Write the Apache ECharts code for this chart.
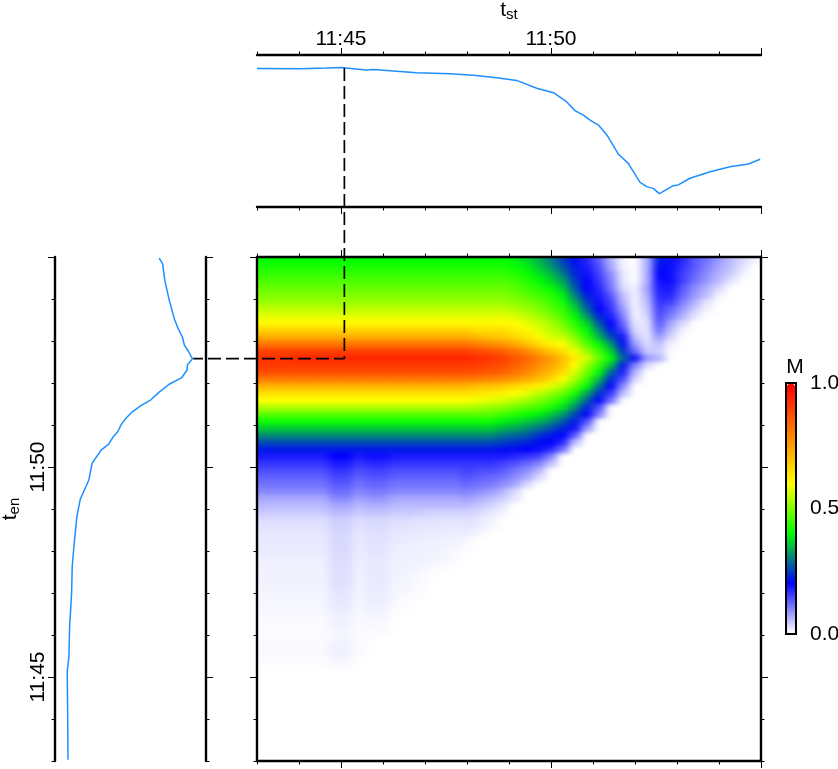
<!DOCTYPE html>
<html><head><meta charset="utf-8">
<style>html,body{margin:0;padding:0;background:#fff}#c{width:838px;height:769px}</style>
<script src="https://cdn.jsdelivr.net/npm/echarts@6/dist/echarts.min.js"></script>
</head><body>
<svg width="0" height="0" style="position:absolute"><filter id="soft" x="0" y="0" width="100%" height="100%" color-interpolation-filters="sRGB"><feGaussianBlur stdDeviation="4 2.2"/></filter></svg>
<div id="c"></div>
<script>
// minutes of the day: 703 = 11:43, 715 = 11:55
const tMin = 703, tMax = 715;
const tickMinutes = [705, 710];
const tickLabels = ['11:45', '11:50'];
const majorMinutes = [705, 710, 715];

const topT = [703.00,704.02,704.66,705.02,705.29,705.61,705.77,706.25,706.80,707.60,708.15,708.71,709.18,709.66,710.06,710.37,710.57,710.77,710.93,711.13,711.33,711.60,711.84,712.12,712.28,712.44,712.58,712.91,713.03,713.31,713.79,714.26,714.70,714.98];
const topV = [0.912,0.910,0.914,0.917,0.910,0.901,0.904,0.895,0.884,0.877,0.866,0.851,0.833,0.781,0.752,0.693,0.634,0.605,0.572,0.539,0.474,0.349,0.287,0.162,0.134,0.121,0.088,0.140,0.145,0.189,0.232,0.265,0.283,0.314];

const leftT = [714.97,714.85,714.45,713.98,713.54,713.30,713.09,712.90,712.75,712.58,712.43,712.31,712.13,711.97,711.77,711.60,711.46,711.32,711.16,711.02,710.84,710.70,710.54,710.40,710.09,709.69,709.23,708.82,708.18,707.63,707.00,706.20,705.48,705.13,704.06,703.03];
const leftV = [0.690,0.712,0.727,0.756,0.789,0.815,0.844,0.857,0.884,0.910,0.877,0.875,0.840,0.756,0.686,0.635,0.569,0.514,0.470,0.440,0.415,0.382,0.354,0.305,0.246,0.224,0.167,0.145,0.127,0.114,0.110,0.097,0.092,0.081,0.084,0.086];

// dashed guide: from the top-panel curve, to the selected point, to the left-panel peak
const guideT = [705.08, 705.08, 701.48];
const guideE = [719.50, 712.58, 712.58];

// M x 100, one row per t_en step from the top of the picture; rows stop at the diagonal
const heatRows = [
[40,40,40,40,40,40,40,40,40,40,40,40,40,40,40,40,40,40,40,40,40,39,37,34,30,25,21,17,13,6,1,0,6,22,19,17,13,11,8,5,3,1],
[42,42,42,42,42,42,42,42,42,42,42,42,42,42,42,42,42,42,42,42,42,41,39,36,32,27,22,18,14,7,1,0,6,21,19,16,13,10,7,5,2],
[44,44,44,44,44,44,44,44,44,44,44,44,44,44,44,44,44,44,44,44,44,43,41,38,35,30,23,19,15,9,2,0,6,20,19,15,12,9,6,4,1],
[46,46,46,46,46,46,46,46,46,46,46,46,46,46,46,46,46,46,46,46,46,45,43,40,37,33,25,20,16,10,2,0,6,19,19,15,11,8,5,2],
[48,48,48,48,48,48,48,48,48,48,48,48,48,48,48,48,48,48,48,48,48,47,45,43,40,36,27,20,17,11,3,1,7,18,18,13,9,6,3],
[50,50,50,50,50,50,50,50,50,50,50,50,50,50,50,50,50,50,50,50,50,49,47,45,43,39,30,22,18,13,5,1,6,17,17,12,8,5,1],
[52,52,52,52,52,52,52,52,52,52,52,52,52,52,52,52,52,52,52,52,52,51,50,48,45,41,34,25,19,15,6,1,5,16,15,10,6,2],
[55,55,55,55,55,55,55,55,55,55,55,55,55,55,55,55,55,55,55,55,55,54,52,50,47,44,37,28,20,16,8,1,4,15,12,8,4,1],
[58,58,58,58,58,58,58,58,58,58,58,58,58,58,58,58,58,58,58,58,58,57,55,53,50,46,40,32,23,18,10,1,3,14,10,6,2],
[61,61,61,61,61,61,61,61,61,61,61,61,61,61,61,61,61,61,61,61,61,60,58,56,53,49,43,37,27,20,12,2,2,13,7,3],
[67,67,67,67,67,67,67,67,67,67,67,67,67,67,67,67,67,67,65,65,65,63,61,58,55,52,46,40,31,22,15,3,2,11,5,1],
[73,73,73,73,73,73,73,73,73,73,73,73,73,73,73,73,73,73,71,70,69,67,64,61,57,56,50,43,35,26,19,5,2,8,3],
[82,82,82,82,82,82,82,82,82,82,82,82,82,82,82,82,82,82,80,78,77,74,70,66,62,60,54,47,40,32,21,8,3,5,1],
[90,90,90,90,90,90,90,90,90,90,90,90,90,90,90,90,90,90,88,87,85,82,79,74,69,65,59,52,45,37,24,12,4,4],
[92,92,92,94,94,94,94,94,94,94,94,94,94,94,94,94,94,94,93,92,90,87,84,80,76,70,63,57,48,40,28,19,8,6],
[91,91,91,91,91,91,91,91,91,91,91,91,91,91,91,91,91,91,90,89,88,85,82,78,74,69,60,52,44,35,22,10,3],
[88,88,88,88,88,88,88,88,88,88,88,88,88,88,88,88,88,88,87,86,85,82,79,75,71,65,57,49,40,28,18,6],
[81,81,81,81,81,81,81,81,81,81,81,81,81,81,81,81,81,81,80,79,78,76,73,70,66,60,53,45,35,23,14,3],
[72,72,72,72,72,72,72,72,72,72,72,72,72,72,72,72,72,71,70,69,68,66,64,62,58,54,48,40,29,20,9],
[65,65,65,65,65,65,65,65,65,65,65,65,65,65,65,65,65,65,64,63,62,60,58,55,52,48,42,33,24,16,5],
[60,60,60,60,60,60,60,60,60,60,60,60,60,60,60,60,60,60,59,58,57,55,53,50,47,43,36,28,20,11],
[54,54,54,54,54,54,54,54,54,54,54,54,54,54,54,54,54,54,53,52,51,49,47,45,42,38,31,23,14],
[47,47,47,47,47,47,47,47,47,47,47,47,47,47,47,47,47,47,47,47,45,43,41,39,36,32,26,20,10],
[41,41,41,41,41,41,41,41,41,41,41,41,41,41,41,41,41,41,41,41,39,38,36,34,31,27,22,14],
[36,36,36,36,36,36,36,36,36,36,36,36,36,36,36,36,36,36,36,36,34,33,31,29,26,23,19,8],
[31,31,31,31,31,31,31,31,31,31,31,31,31,31,31,31,31,31,31,31,29,28,27,24,22,20,13],
[26,26,26,26,26,26,26,26,26,26,26,26,26,26,26,26,26,26,26,26,25,24,23,21,20,17,5],
[22,22,22,22,22,22,22,22,22,22,22,22,22,22,22,22,22,22,22,22,21,21,20,19,17,11],
[18,18,18,18,18,18,20,20,18,19,19,18,18,18,18,18,18,18,18,18,18,17,16,15,10],
[16,16,16,16,16,16,18,18,16,17,17,16,16,16,16,16,16,16,16,16,15,14,12,10,5],
[14,14,14,14,14,14,16,16,14,15,15,14,14,14,14,14,14,15,14,14,13,11,9,6],
[12.5,12.5,12.5,12.5,12.5,12.5,14.5,14.5,12.5,13.5,13.5,12.5,12.5,12.5,12.5,12.5,12.5,13.5,12.5,12,11,9,7,3],
[11,11,11,11,11,11,13,13,11,12,12,11,11,11,11,11,11,12,11,10.5,9,7,3],
[9.5,9.5,9.5,9.5,9.5,9.5,11.5,11.5,9.5,10.5,10.5,9.5,9.5,9.5,9.5,9.5,9.5,10,9,8,6,3],
[7,7,7,7,7,7,9.5,9.5,7.5,8.5,8.5,7,7,7,7,7,7,7.5,6.5,5.5,4,2],
[5.5,5.5,5.5,5.5,5.5,5.5,7,7,5.5,6.5,6.5,5.5,5.5,5.5,5.5,5.5,5.5,5.5,4.5,3.5,2],
[4.2,4.2,4.2,4.2,4.2,4.2,5.5,5.5,4.2,4.8,4.8,4.2,4.2,4,3.5,3.5,3.5,3.5,3,2,1],
[2.8,2.8,2.8,2.8,2.8,2.8,4,4,2.8,3.2,3.2,2.8,2.8,2.5,2.5,2.3,2.3,2.5,2,1],
[2.3,2.3,2.3,2.3,2.3,2.3,3.5,3.5,2.3,2.8,2.8,2.3,2.2,2,2,1.8,1.8,2,1.5,0.8],
[2,2,2,2,2,2,3.2,3.2,2,2.5,2.5,2,1.8,1.7,1.6,1.5,1.4,1.5,0.8],
[1.8,1.8,1.8,1.8,1.8,1.8,3,3,1.8,2.3,2.3,1.7,1.5,1.4,1.3,1.1,1,0.6],
[1.6,1.6,1.6,1.6,1.6,1.6,3,3,1.6,2.2,2.2,1.5,1.3,1.2,1.1,1,0.8,0.4],
[1.5,1.5,1.5,1.5,1.5,1.5,2.8,2.8,1.5,2,2,1.3,1.2,1.1,1,0.8,0.4],
[1.2,1.2,1.2,1.2,1.2,1.2,2.7,2.7,1.3,1.8,1.8,1.2,1.1,1,0.9,0.7,0.3],
[1.1,1.1,1.1,1.1,1.1,1.1,2.6,2.6,1.2,1.8,1.8,1.1,1,0.8,0.5,0.2],
[1,1,1,1,1,1,2.5,2.5,1.1,1.8,1.8,1,0.9,0.6,0.2],
[1,1,1,1,1,1,2.4,2.4,1,1.7,1.7,0.9,0.8,0.5,0.1],
[0.9,0.9,0.9,0.9,0.9,0.9,2.2,2.2,0.9,1.6,1.6,0.8,0.7,0.3],
[0.8,0.8,0.8,0.8,0.8,0.8,2,2,0.8,1.5,1.5,0.7,0.5,0.2],
[0.7,0.7,0.7,0.7,0.7,0.7,1.8,1.8,0.7,1.4,1.4,0.5,0.2],
[0.6,0.6,0.6,0.6,0.6,0.6,1.5,1.5,0.6,1.1,1.1,0.3,0.1],
[0.5,0.5,0.5,0.5,0.5,0.5,1.2,1.2,0.5,0.8,0.8,0.1],
[0.4,0.4,0.4,0.4,0.4,0.4,1,1,0.4,0.6,0.4],
[0.4,0.4,0.4,0.4,0.4,0.4,0.8,0.8,0.3,0.4,0.3],
[0.4,0.4,0.4,0.4,0.4,0.4,0.8,0.8,0.3,0.2],
[0.5,0.5,0.5,0.5,0.5,0.5,1.1,1.1,0.3,0.1],
[0.5,0.5,0.5,0.5,0.5,0.5,1.1,1.1,0.4],
[0.3,0.3,0.3,0.3,0.3,0.3,0.9,0.8],
[0.1,0.1,0.1,0.1,0.1,0.1,0.4,0.3]
];
const heatCols = 42, heatRowCount = 72;
const colorStops = ['#ffffff','#0000ff','#00ff00','#ffff00','#ff8000','#ff0000'];

const FONT = '"Liberation Sans", Arial, Helvetica, sans-serif';
const LS = 21;
const lineStyle = {color:'#000', width:2.4};
const richName = {a:{fontFamily:FONT,fontSize:21,color:'#000'}, b:{fontFamily:FONT,fontSize:15,color:'#000',padding:[8,0,0,0]}};

function timeAxis(grid, position, major, extra){
  return Object.assign({
    type:'value', gridIndex:grid, position:position, min:tMin, max:tMax, interval:1,
    splitLine:{show:false}, minorTick:{show:false},
    axisLine:{show:!major, onZero:false, lineStyle:lineStyle},
    axisTick:major ? {show:true, customValues:majorMinutes, length:7, lineStyle:{color:'#000',width:1}}
                   : {show:true, length:3.5, lineStyle:{color:'#000',width:1}},
    axisLabel:{show:false}
  }, extra||{});
}
function hidden(grid, min, max){
  return {type:'value', gridIndex:grid, min:min, max:max, show:false, splitLine:{show:false}};
}
const labelFmt = v => tickLabels[tickMinutes.indexOf(v)] || '';
const rect = (l,t,w,h,x) => Object.assign({left:l, top:t, width:w, height:h, outerBoundsMode:'none', containLabel:false}, x||{});

const grids = [
  rect(257,55,504,152),   // 0 top panel
  rect(257,55,504,152),   // 1 top panel, long ticks
  rect(55,257,151,504),   // 2 left panel
  rect(55,257,151,504),   // 3 left panel, long ticks
  rect(245,250,516,511),  // 4 heat cells (one spare column and row behind the frame, for the soft edge)
  rect(257,257,504,504),  // 5 heat frame
  rect(257,257,504,504),  // 6 heat frame, long ticks
  rect(786,383,10,251,{show:true, borderColor:'#000', borderWidth:2, backgroundColor:'transparent'}), // 7 colour bar
  rect(55,55,706,706)     // 8 guide overlay
];

const xAxis = [
  timeAxis(0,'top',false,{
    axisLabel:{show:true, customValues:tickMinutes, formatter:labelFmt, fontFamily:FONT, fontSize:LS, color:'#000', margin:5},
    name:'{a|t}{b|st}', nameLocation:'middle', nameGap:33, nameTextStyle:{rich:richName}
  }),
  timeAxis(0,'bottom',false),
  timeAxis(1,'top',true),
  timeAxis(1,'bottom',true),
  hidden(2,0,1),
  hidden(3,0,1),
  {type:'category', gridIndex:4, show:false, data:Array.from({length:heatCols+1},(_, i)=>i)},
  timeAxis(5,'top',false),
  timeAxis(5,'bottom',false),
  timeAxis(6,'top',true),
  timeAxis(6,'bottom',true),
  hidden(7,0,1),
  hidden(8,698.19,715)
];
const yAxis = [
  hidden(0,0,1),
  hidden(1,0,1),
  timeAxis(2,'left',false,{
    axisLabel:{show:true, customValues:tickMinutes, formatter:labelFmt, rotate:90, fontFamily:FONT, fontSize:LS, color:'#000', margin:6},
    name:'{a|t}{b|en}', nameLocation:'middle', nameRotate:90, nameGap:33, nameTextStyle:{rich:richName}
  }),
  timeAxis(2,'right',false),
  timeAxis(3,'left',true),
  timeAxis(3,'right',true),
  {type:'category', gridIndex:4, show:false, inverse:true, data:Array.from({length:heatRowCount+1},(_, i)=>i)},
  timeAxis(5,'left',false),
  timeAxis(5,'right',false),
  timeAxis(6,'left',true),
  timeAxis(6,'right',true),
  {type:'value', gridIndex:7, position:'right', min:0, max:1, interval:0.5,
   splitLine:{show:false}, axisLine:{show:false},
   axisTick:{show:true, length:9, lineStyle:{color:'#000',width:1}},
   minorTick:{show:true, splitNumber:5, length:4, lineStyle:{color:'#000',width:1}},
   axisLabel:{show:true, fontFamily:FONT, fontSize:LS, color:'#000', margin:14, formatter:v=>v.toFixed(1)},
   name:'M', nameLocation:'end', nameGap:5, nameRotate:0, nameTextStyle:{fontFamily:FONT, fontSize:LS, color:'#000', padding:[0,0,0,18]}},
  hidden(8,703,719.81)
];

const heatData = [];
heatRows.forEach((row, r) => row.forEach((v, c) => {
  heatData.push([c+1, r+1, v/100]);
  if (c === 0) heatData.push([0, r+1, v/100]);      // spare column behind the frame
  if (r === 0) heatData.push([c+1, 0, v/100]);      // spare row behind the frame
  if (c === 0 && r === 0) heatData.push([0, 0, v/100]);
}));

const blue = {color:'#1e8fff', width:1.5};
const option = {
  animation:false,
  backgroundColor:'transparent',
  grid:grids, xAxis:xAxis, yAxis:yAxis,
  visualMap:{
    type:'continuous', show:true, min:0, max:1, seriesIndex:2, calculable:false, hoverLink:false,
    left:787, top:384, itemWidth:8, itemHeight:249, padding:0, realtime:false,
    inRange:{color:colorStops}, text:null, textStyle:{fontSize:0}
  },
  series:[
    {type:'line', name:'M(t_st)', xAxisIndex:0, yAxisIndex:0, showSymbol:false, lineStyle:blue,
     data:topT.map((t,i)=>[t,topV[i]])},
    {type:'line', name:'M(t_en)', xAxisIndex:4, yAxisIndex:2, showSymbol:false, lineStyle:blue,
     data:leftT.map((t,i)=>[leftV[i],t])},
    {type:'heatmap', name:'M', xAxisIndex:6, yAxisIndex:6, progressive:0, zlevel:-1, itemStyle:{borderWidth:0}, data:heatData},
    {type:'line', name:'guide', xAxisIndex:12, yAxisIndex:12, showSymbol:false, z:10, silent:true,
     lineStyle:{color:'#000', width:1.7, type:[13,5]},
     data:guideT.map((t,i)=>[t,guideE[i]])}
  ]
};
const chart = echarts.init(document.getElementById('c'), null, {renderer:'canvas'});
chart.setOption(option);
// soften the cells, as in the source image, and keep them inside the frame
const heatLayer = document.querySelector('#c canvas');
heatLayer.style.filter = 'url(#soft)';
heatLayer.style.clipPath = 'inset(257px 77px 8px 257px)';
</script></body></html>
